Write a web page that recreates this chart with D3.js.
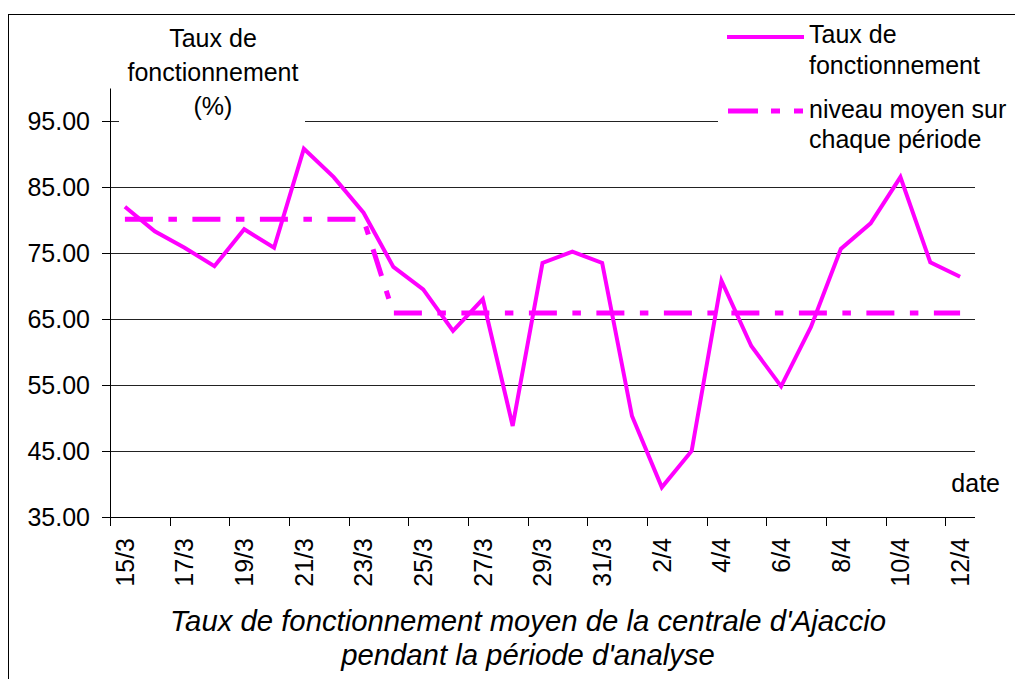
<!DOCTYPE html>
<html>
<head>
<meta charset="utf-8">
<script src="https://cdn.jsdelivr.net/npm/d3@7"></script>
<style>
  html, body { margin: 0; padding: 0; background: #fff; }
  svg { display: block; }
  text { font-family: "Liberation Sans", Arial, sans-serif; fill: #000; }
</style>
</head>
<body>
<svg id="chart" width="1015" height="679"></svg>
<script>
const dates = ["15/3","16/3","17/3","18/3","19/3","20/3","21/3","22/3","23/3","24/3","25/3","26/3","27/3","28/3","29/3","30/3","31/3",
               "1/4","2/4","3/4","4/4","5/4","6/4","7/4","8/4","9/4","10/4","11/4","12/4"];
const taux = [82.0,78.3,75.8,73.0,78.6,75.8,90.8,86.5,81.1,72.9,69.5,63.2,68.0,48.8,73.5,75.2,73.5,
              50.3,39.5,45.0,70.8,60.9,54.8,63.8,75.6,79.5,86.5,73.6,71.4];
const moyen = [80.1,80.1,80.1,80.1,80.1,80.1,80.1,80.1,80.1,
               65.9,65.9,65.9,65.9,65.9,65.9,65.9,65.9,65.9,65.9,65.9,65.9,65.9,65.9,65.9,65.9,65.9,65.9,65.9,65.9];
const yTicks = [35,45,55,65,75,85,95];
const yTitle = ["Taux de","fonctionnement","(%)"];
const legendLabels = [["Taux de","fonctionnement"],["niveau moyen sur","chaque période"]];
const xTitle = ["Taux de fonctionnement moyen de la centrale d'Ajaccio","pendant la période d'analyse"];
const xLabel = "date";

const svg = d3.select("#chart");
const L = 110, R = 975, T = 88, B = 517;
const magenta = "#FF00FF";
const fs = 25;

const x = d3.scaleBand().domain(dates).range([L, R]).padding(0);
const xc = d => x(d) + x.bandwidth() / 2;
const y = d3.scaleLinear().domain([35, 100]).range([B, T]);

// outer frame
svg.append("rect").attr("x", 8.5).attr("y", 14.5).attr("width", 1100).attr("height", 800)
  .attr("fill", "#fff").attr("stroke", "#000").attr("stroke-width", 1);

// gridlines
svg.append("g").attr("transform", `translate(${L},0)`)
  .call(d3.axisLeft(y).tickValues(yTicks.filter(v => v > 35)).tickSize(-(R - L)).tickFormat(""))
  .call(g => g.select(".domain").remove())
  .call(g => g.selectAll("line").attr("stroke", "#222").attr("stroke-width", 1));

// white boxes behind title and legend
svg.append("rect").attr("x", 119).attr("y", 18).attr("width", 186).attr("height", 110).attr("fill", "#fff");
svg.append("rect").attr("x", 718).attr("y", 18).attr("width", 290).attr("height", 145).attr("fill", "#fff");

// y axis
const yAxis = svg.append("g").attr("transform", `translate(${L},0)`)
  .call(d3.axisLeft(y).tickValues(yTicks).tickSize(8).tickSizeOuter(0).tickPadding(12).tickFormat(d3.format(".2f")));
yAxis.select(".domain").attr("stroke", "#000");
yAxis.selectAll("line").attr("stroke", "#000");
yAxis.selectAll("text").style("font-size", fs + "px").attr("fill", "#000")
  .style("font-family", '"Liberation Sans", Arial, sans-serif');

// x axis (labels at band centers)
const evenDates = dates.filter((d, i) => i % 2 === 0);
const xAxis = svg.append("g").attr("transform", `translate(0,${B})`)
  .call(d3.axisBottom(x).tickValues(evenDates).tickSize(0).tickSizeOuter(0).tickPadding(0));
xAxis.select(".domain").attr("stroke", "#000").attr("d", `M${L},0.5H${R}`);
xAxis.selectAll("text")
  .style("font-size", fs + "px").attr("fill", "#000")
  .style("font-family", '"Liberation Sans", Arial, sans-serif')
  .attr("text-anchor", "end")
  .attr("transform", "translate(0,21) rotate(-90)")
  .attr("x", 0).attr("y", 0).attr("dy", "0.35em");
// tick marks at category boundaries, every 2 categories
svg.append("g").selectAll("line").data(evenDates).join("line")
  .attr("x1", d => Math.round(x(d)) + 0.5).attr("x2", d => Math.round(x(d)) + 0.5)
  .attr("y1", B).attr("y2", B + 9).attr("stroke", "#000");

// lines
const line = d3.line().x((v, i) => xc(dates[i])).y(v => y(v));
svg.append("path").datum(taux).attr("d", line)
  .attr("fill", "none").attr("stroke", magenta).attr("stroke-width", 4).attr("stroke-linejoin", "miter");
svg.append("path").datum(moyen).attr("d", line)
  .attr("fill", "none").attr("stroke", magenta).attr("stroke-width", 5)
  .attr("stroke-dasharray", "28,15.5,8.5,15.5");

// y title
svg.append("g").selectAll("text").data(yTitle).join("text")
  .attr("x", 213).attr("y", (d, i) => 47 + i * 34)
  .attr("text-anchor", "middle").style("font-size", fs + "px").text(d => d);

// legend
const lg = svg.append("g");
lg.append("line").attr("x1", 727).attr("x2", 804).attr("y1", 37).attr("y2", 37)
  .attr("stroke", magenta).attr("stroke-width", 4);
lg.append("line").attr("x1", 728).attr("x2", 803).attr("y1", 111).attr("y2", 111)
  .attr("stroke", magenta).attr("stroke-width", 5).attr("stroke-dasharray", "30,13,9,14");
const legBase = [[43, 74], [118, 148]];
legendLabels.forEach((lines, k) => {
  lines.forEach((t, j) => {
    lg.append("text").attr("x", 809).attr("y", legBase[k][j]).style("font-size", fs + "px").text(t);
  });
});

// date label
svg.append("text").attr("x", 1000).attr("y", 492).attr("text-anchor", "end")
  .style("font-size", fs + "px").text(xLabel);

// bottom title
svg.append("g").selectAll("text").data(xTitle).join("text")
  .attr("x", 528).attr("y", (d, i) => 631 + i * 34)
  .attr("text-anchor", "middle").style("font-size", "29.3px").style("font-style", "italic").text(d => d);
</script>
</body>
</html>
